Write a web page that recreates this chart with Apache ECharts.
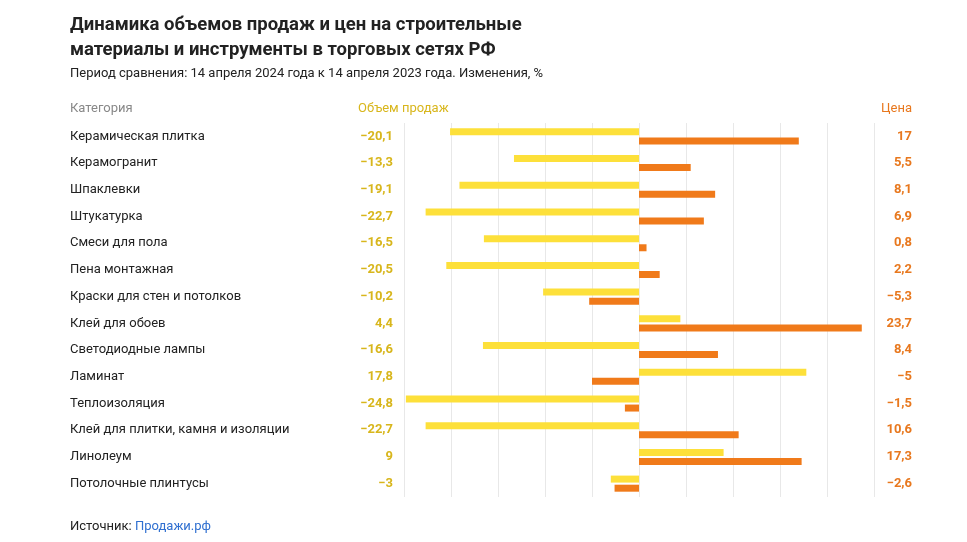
<!DOCTYPE html><html><head><meta charset="utf-8"><script src="https://cdn.jsdelivr.net/npm/echarts@6/dist/echarts.min.js"></script>
<style>body{margin:0;background:#fff}#c{width:967px;height:542px}</style></head><body><div id="c"></div><script>
const categories=["Керамическая плитка","Керамогранит","Шпаклевки","Штукатурка","Смеси для пола","Пена монтажная","Краски для стен и потолков","Клей для обоев","Светодиодные лампы","Ламинат","Теплоизоляция","Клей для плитки, камня и изоляции","Линолеум","Потолочные плинтусы"];
const volume=[-20.1,-13.3,-19.1,-22.7,-16.5,-20.5,-10.2,4.4,-16.6,17.8,-24.8,-22.7,9,-3];
const price=[17,5.5,8.1,6.9,0.8,2.2,-5.3,23.7,8.4,-5,-1.5,10.6,17.3,-2.6];
const fmt=v=>(v<0?'−':'')+String(Math.abs(v)).replace('.',',');
const F='Roboto, "Noto Sans", sans-serif';
const ch=echarts.init(document.getElementById('c'));
ch.setOption({
 textStyle:{fontFamily:F},
 title:[{text:'Динамика объемов продаж и цен на строительные\nматериалы и инструменты в торговых сетях РФ',left:65,top:8,textStyle:{fontSize:18.5,fontWeight:'bold',color:'#222',lineHeight:25,fontFamily:F}},
 {text:'Период сравнения: 14 апреля 2024 года к 14 апреля 2023 года. Изменения, %',left:65,top:62,textStyle:{fontSize:13,fontWeight:'normal',color:'#222',fontFamily:F}},
 {text:'Категория',left:65,top:97,textStyle:{fontSize:13,fontWeight:'normal',color:'#888',fontFamily:F}},
 {text:'Объем продаж',left:353,top:97,textStyle:{fontSize:13,fontWeight:'normal',color:'#d8b61c',fontFamily:F}},
 {text:'Цена',right:50,top:97,textStyle:{fontSize:13,fontWeight:'normal',color:'#e8781e',fontFamily:F}},
 {text:'Источник: {a|Продажи.рф}',left:65,top:515,textStyle:{fontSize:13,fontWeight:'normal',color:'#222',fontFamily:F,rich:{a:{fontSize:13,color:'#2f6fd0',fontFamily:F}}}}],
 grid:{left:404,right:93,top:123,bottom:45},
 xAxis:{type:'value',min:-25,max:25,interval:5,axisLabel:{show:false},axisLine:{show:false},axisTick:{show:false},splitLine:{lineStyle:{color:'#e8e8e8'}}},
 yAxis:[
  {type:'category',data:categories,inverse:true,position:'left',axisLine:{show:false},axisTick:{show:false},axisLabel:{margin:334,align:'left',fontSize:13,color:'#222'}},
  {type:'category',data:categories,inverse:true,position:'left',axisLine:{show:false},axisTick:{show:false},axisLabel:{margin:11,align:'right',fontSize:13,fontWeight:'bold',color:'#d8b61c',formatter:(v,i)=>fmt(volume[i])}},
  {type:'category',data:categories,inverse:true,position:'right',axisLine:{show:false},axisTick:{show:false},axisLabel:{margin:38,align:'right',fontSize:13,fontWeight:'bold',color:'#e8781e',formatter:(v,i)=>fmt(price[i])}}
 ],
 series:[
  {type:'bar',data:volume,barWidth:7,barGap:'30%',itemStyle:{color:'#fde03a'},silent:true},
  {type:'bar',data:price,barWidth:7,itemStyle:{color:'#f07a1a'},silent:true}
 ]
});
</script></body></html>
